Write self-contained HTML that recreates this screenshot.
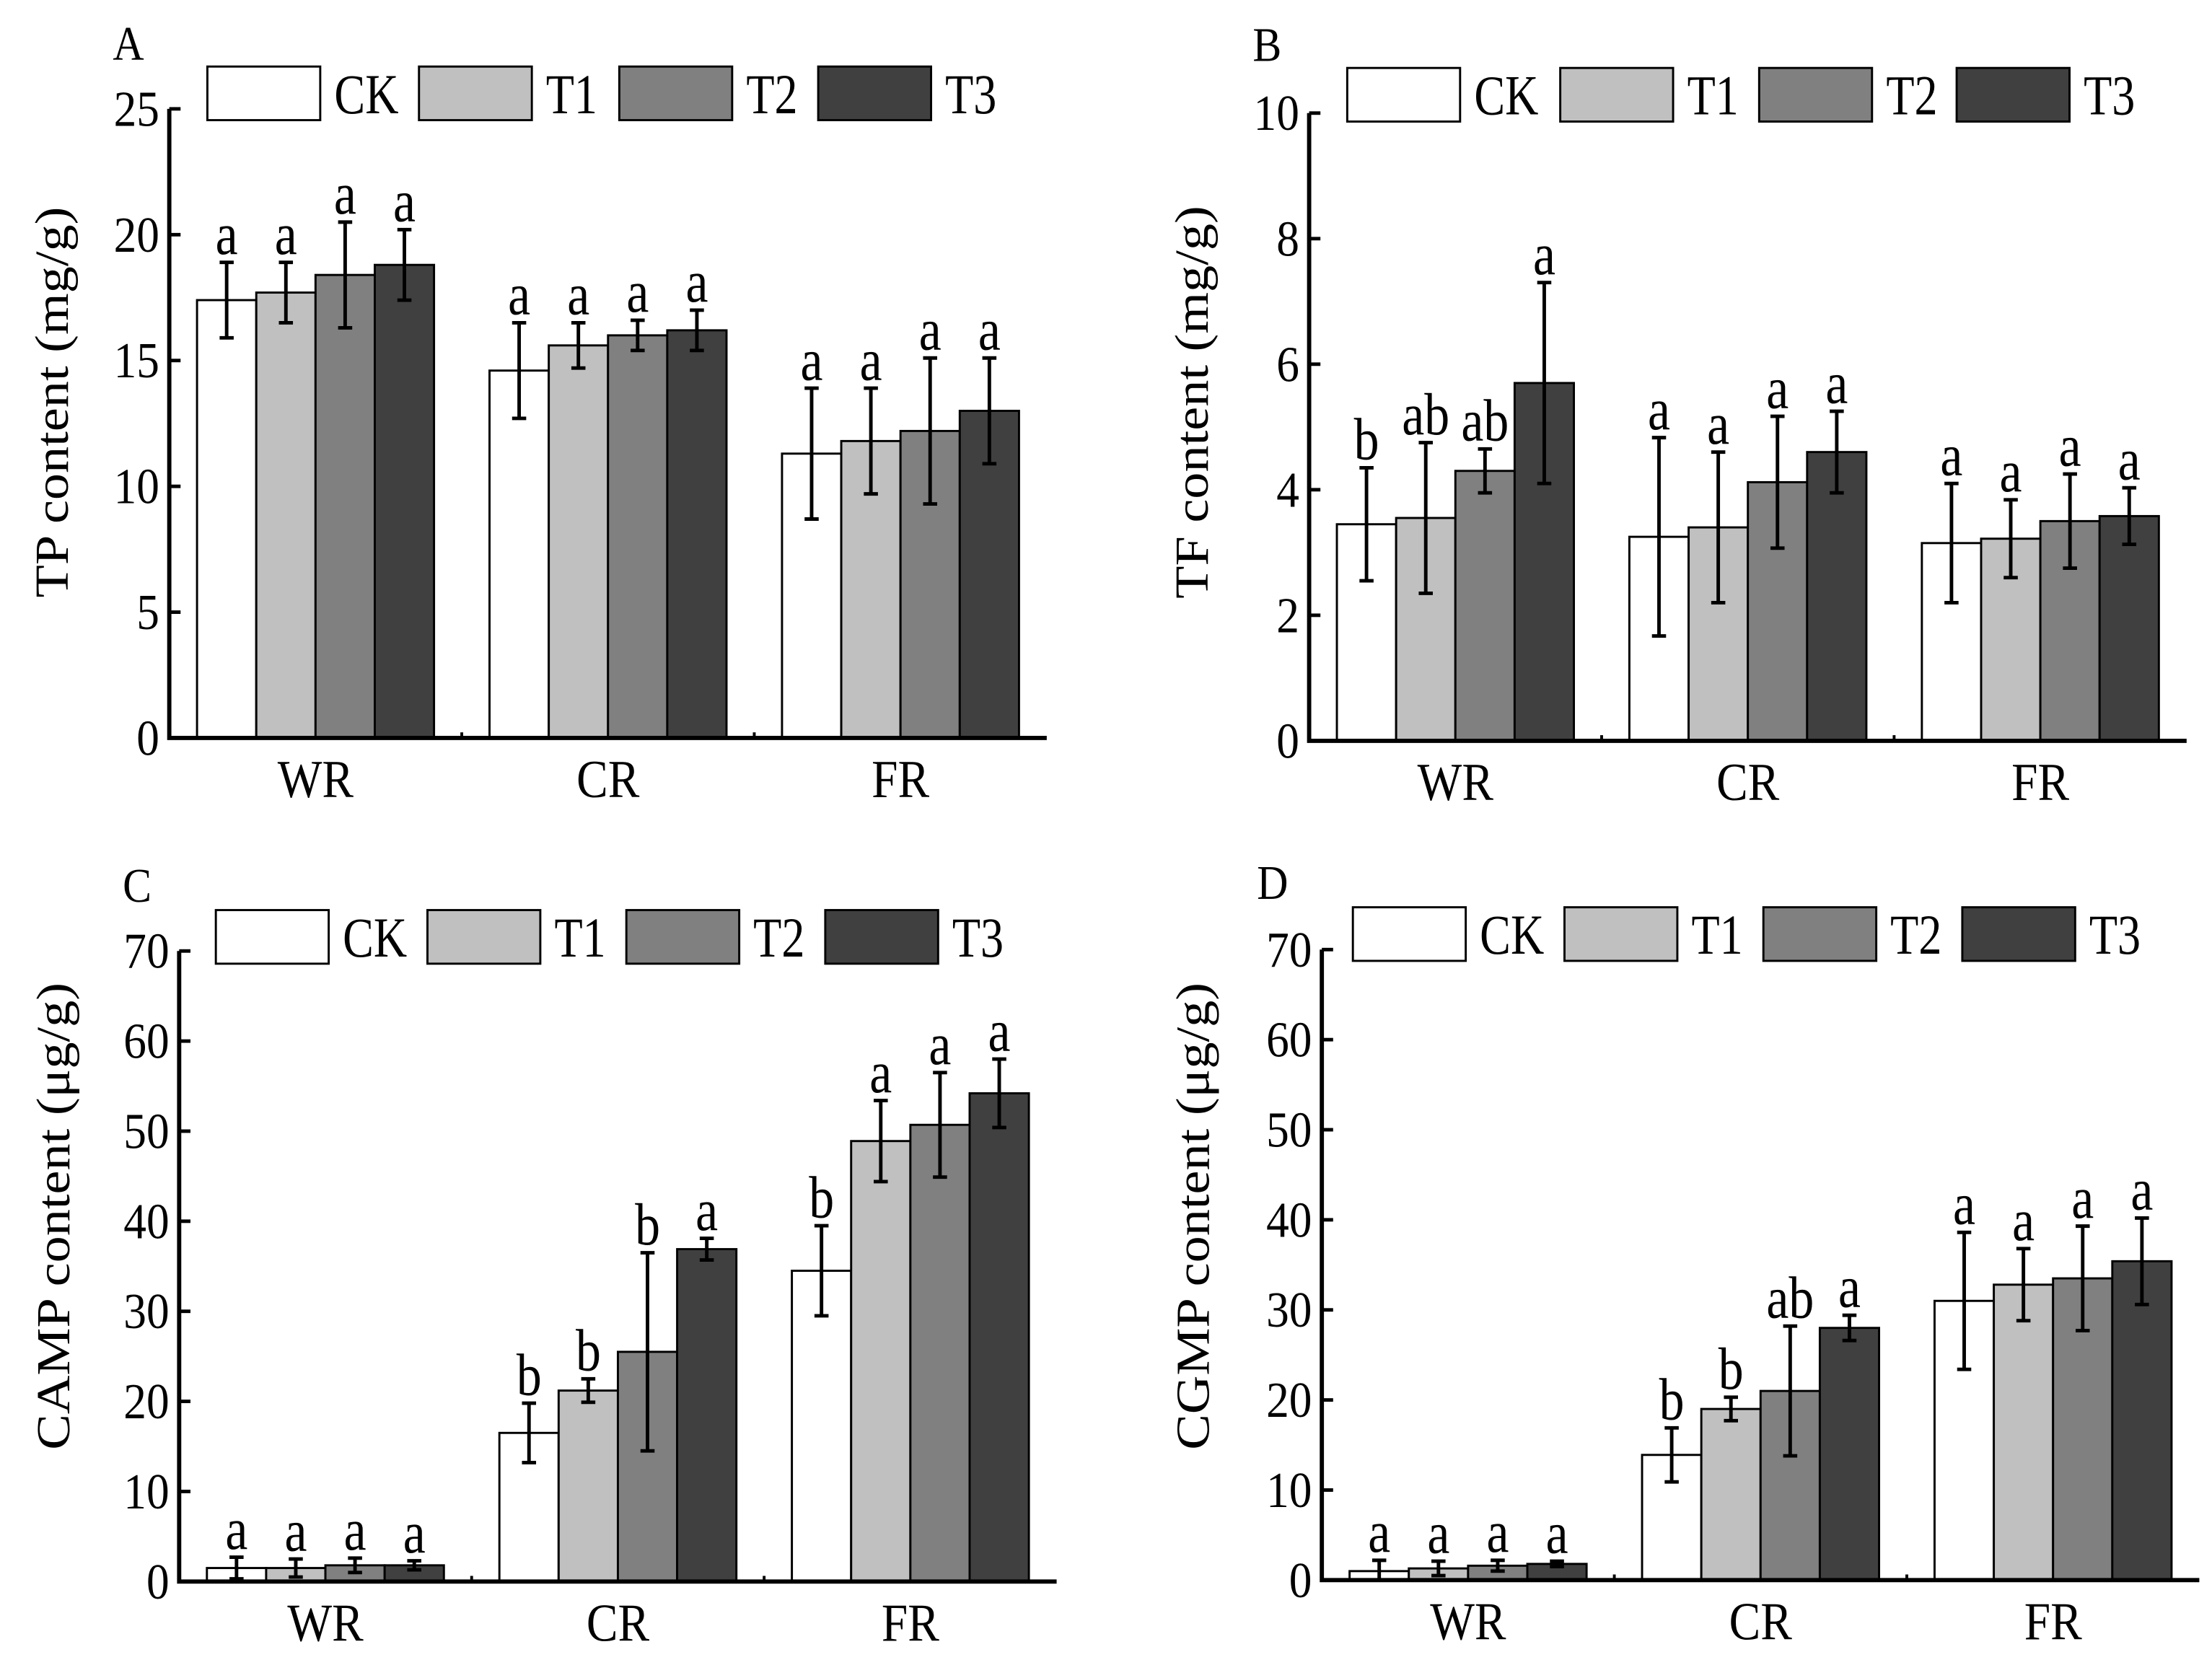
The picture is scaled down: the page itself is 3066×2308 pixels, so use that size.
<!DOCTYPE html>
<html><head><meta charset="utf-8"><style>
html,body{margin:0;padding:0;background:#fff;}
svg{display:block;}
text{font-family:"Liberation Serif",serif;fill:#000;}
</style></head><body>
<svg id="fig" width="3066" height="2308" viewBox="0 0 1568 1180" xmlns="http://www.w3.org/2000/svg"></svg>
<script>
const categories = ["WR","CR","FR"];
const seriesNames = ["CK","T1","T2","T3"];
const colors = ["#ffffff","#c0c0c0","#808080","#404040"];
// Panel A: TP content
const tpMeans = [[17.4,17.7,18.4,18.8],[14.6,15.6,16.0,16.2],[11.3,11.8,12.2,13.0]];
const tpErr   = [[1.5,1.2,2.1,1.4],[1.9,0.9,0.6,0.8],[2.6,2.1,2.9,2.1]];
const tpLetters = [["a","a","a","a"],["a","a","a","a"],["a","a","a","a"]];
const tpTicks = [0,5,10,15,20,25];
// Panel B: TF content
const tfMeans = [[3.45,3.55,4.3,5.7],[3.25,3.4,4.12,4.6],[3.15,3.22,3.5,3.58]];
const tfErr   = [[0.9,1.2,0.35,1.6],[1.58,1.2,1.05,0.65],[0.95,0.62,0.75,0.45]];
const tfLetters = [["b","ab","ab","a"],["a","a","a","a"],["a","a","a","a"]];
const tfTicks = [0,2,4,6,8,10];
// Panel C: CAMP content
const campMeans = [[1.5,1.5,1.8,1.8],[16.5,21.2,25.5,36.9],[34.5,48.9,50.7,54.2]];
const campErr   = [[1.2,1.0,0.8,0.5],[3.3,1.3,11.0,1.2],[5.0,4.5,5.8,3.8]];
const campLetters = [["a","a","a","a"],["b","b","b","a"],["b","a","a","a"]];
const campTicks = [0,10,20,30,40,50,60,70];
// Panel D: CGMP content
const cgmpMeans = [[1.0,1.3,1.6,1.8],[13.9,19.0,21.0,28.0],[31.0,32.8,33.5,35.4]];
const cgmpErr   = [[1.2,0.8,0.6,0.3],[3.0,1.3,7.2,1.4],[7.6,4.0,5.8,4.8]];
const cgmpLetters = [["a","a","a","a"],["b","b","ab","a"],["a","a","a","a"]];
const cgmpTicks = [0,10,20,30,40,50,60,70];

const NS="http://www.w3.org/2000/svg";
const svg=document.getElementById('fig');
function mk(tag,attrs,parent,txt){const e=document.createElementNS(NS,tag);for(const k in attrs)e.setAttribute(k,attrs[k]);if(txt!==undefined)e.textContent=txt;parent.appendChild(e);return e;}
function txt(parent,x,y,s,size,sx,anchor){
  return mk('text',{x:0,y:0,'font-size':size,'text-anchor':anchor||'start',transform:`translate(${x},${y}) scale(${sx},1)`},parent,s);
}

function panel(cfg){
  const g=mk('g',{},svg);
  
  
  const {x0,x1,y0,y1,max}=cfg;
  const ys=v=>y0-(v/max)*(y0-y1);
  const band=(x1-x0)/3, bw=42;
  const bx=(ci,si)=>x0+band*ci+(band-4*bw)/2+si*bw;
  for(let ci=0;ci<3;ci++){
    for(let si=0;si<4;si++){
      const v=cfg.means[ci][si], e=cfg.err[ci][si];
      const x=bx(ci,si);
      const r=mk('rect',{x:x,y:ys(v),width:bw,height:y0-ys(v),fill:colors[si],stroke:'#000','stroke-width':1.5},g);
      
      
      const cx=x+bw/2, top=ys(v+e), bot=ys(Math.max(0,v-e));
      const eb=mk('path',{d:`M${cx},${top}V${bot}M${cx-5},${top}H${cx+5}M${cx-5},${bot}H${cx+5}`,stroke:'#000','stroke-width':2.5,fill:'none'},g);
      
      
      const t=txt(g,cx,top-6,cfg.letters[ci][si],42,0.85,'middle');
      
      
    }
    const xl=txt(g,x0+band*ci+band/2,y0+42,categories[ci],38,0.88,'middle');
    
    
    if(ci>0){mk('line',{x1:x0+band*ci,x2:x0+band*ci,y1:y0,y2:y0-4,stroke:'#000','stroke-width':2},g);}
  }
  const ax=mk('path',{d:`M${x0},${y1}V${y0}H${x1}`,stroke:'#000','stroke-width':3,fill:'none'},g);
  
  
  cfg.ticks.forEach(tv=>{
    const y=ys(tv);
    mk('line',{x1:x0,x2:x0+8,y1:y,y2:y,stroke:'#000','stroke-width':2.5},g);
    const tl=txt(g,x0-7,y+12,String(tv),36,0.9,'end');
    
    
  });
  const yt=mk('text',{x:0,y:0,'text-anchor':'middle','font-size':38,transform:`translate(${cfg.tx},${cfg.tcy}) rotate(-90) scale(1,0.88)`},g,cfg.title);
  
  
  const pl=txt(g,cfg.lx,cfg.ly,cfg.id,34,0.9);
  
  
  cfg.leg.forEach((lx,si)=>{
    const lr=mk('rect',{x:lx,y:cfg.legY,width:80,height:38,fill:colors[si],stroke:'#000','stroke-width':1.5},g);
    
    
    const lt=txt(g,lx+90,cfg.legY+33,seriesNames[si],40,0.82);
    
    
  });
}
panel({id:'A',x0:120,x1:742,y0:523,y1:77,max:25,means:tpMeans,err:tpErr,letters:tpLetters,ticks:tpTicks,title:'TP content (mg/g)',tx:48,tcy:285,lx:80,ly:42,legY:47,leg:[147,297,439,580]});
panel({id:'B',x0:928,x1:1550,y0:525,y1:80,max:10,means:tfMeans,err:tfErr,letters:tfLetters,ticks:tfTicks,title:'TF content (mg/g)',tx:856,tcy:285,lx:888,ly:43,legY:48,leg:[955,1106,1247,1387]});
panel({id:'C',x0:127,x1:749,y0:1121,y1:674,max:70,means:campMeans,err:campErr,letters:campLetters,ticks:campTicks,title:'CAMP content (μg/g)',tx:49,tcy:862,lx:87,ly:639,legY:645,leg:[153,303,444,585]});
panel({id:'D',x0:937,x1:1559,y0:1120,y1:673,max:70,means:cgmpMeans,err:cgmpErr,letters:cgmpLetters,ticks:cgmpTicks,title:'CGMP content (μg/g)',tx:857,tcy:862,lx:891,ly:637,legY:643,leg:[959,1109,1250,1391]});
</script>
</body></html>
